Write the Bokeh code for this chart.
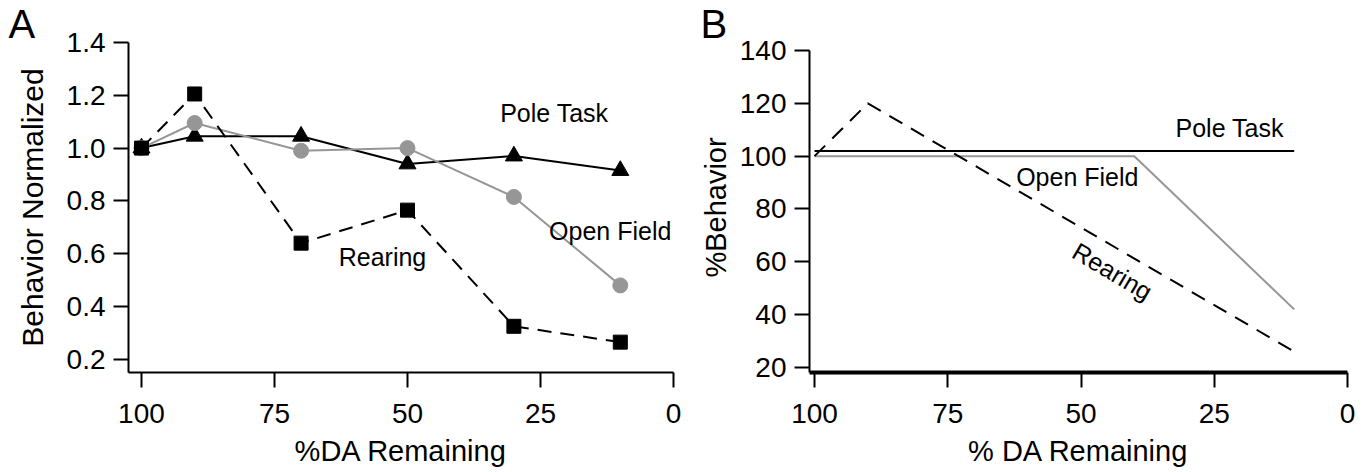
from bokeh.plotting import figure
from bokeh.layouts import row
from bokeh.models import Range1d, FixedTicker, Label
from bokeh.embed import file_html
from bokeh.resources import INLINE
import math

# ---------------- data ----------------
# Panel A (measured)
pct_da = [100, 90, 70, 50, 30, 10]
pole_task = [1.00, 1.045, 1.045, 0.94, 0.97, 0.915]
open_field = [1.00, 1.095, 0.99, 1.00, 0.815, 0.48]
rearing = [1.00, 1.205, 0.64, 0.765, 0.325, 0.265]

a_yticks = [0.2, 0.4, 0.6, 0.8, 1.0, 1.2, 1.4]
a_ytick_labels = ["0.2", "0.4", "0.6", "0.8", "1.0", "1.2", "1.4"]
x_ticks = [100, 75, 50, 25, 0]
x_tick_labels = ["100", "75", "50", "25", "0"]

# Panel B (schematic)
b_pole_x = [100, 10]
b_pole_y = [102, 102]
b_open_x = [100, 40, 10]
b_open_y = [100, 100, 42]
b_rear_x = [100, 90, 10]
b_rear_y = [100, 120, 26]

b_yticks = [20, 40, 60, 80, 100, 120, 140]
b_ytick_labels = ["20", "40", "60", "80", "100", "120", "140"]

FONT = "Liberation Sans"
GRAY = "#969696"
H = 472
TOP = 42
FRAME_H = 330


def style_axes(p, y_label, x_label, yticks, ylabels, ytitle_size, ytitle_standoff,
               xaxis_width=2):
    for ax in (p.xaxis[0], p.yaxis[0]):
        ax.axis_line_width = 2
        ax.axis_line_color = "black"
        ax.major_tick_line_width = 2
        ax.major_tick_line_color = "black"
        ax.major_tick_out = 15
        ax.major_tick_in = 0
        ax.minor_tick_line_color = None
        ax.major_label_text_font = FONT
        ax.major_label_text_font_size = "28px"
        ax.major_label_text_color = "black"
        ax.axis_label_text_font = FONT
        ax.axis_label_text_font_style = "normal"
        ax.axis_label_text_color = "black"
    p.xaxis[0].axis_line_width = xaxis_width
    p.xaxis[0].ticker = FixedTicker(ticks=x_ticks)
    p.xaxis[0].major_label_overrides = {t: l for t, l in zip(x_ticks, x_tick_labels)}
    p.xaxis[0].major_label_standoff = 16
    p.xaxis[0].axis_label = x_label
    p.xaxis[0].axis_label_text_font_size = "29px"
    p.xaxis[0].axis_label_standoff = 9
    p.yaxis[0].ticker = FixedTicker(ticks=yticks)
    p.yaxis[0].major_label_overrides = {t: l for t, l in zip(yticks, ylabels)}
    p.yaxis[0].major_label_standoff = 8
    p.yaxis[0].axis_label = y_label
    p.yaxis[0].axis_label_text_font_size = ytitle_size
    p.yaxis[0].axis_label_standoff = ytitle_standoff
    p.grid.visible = False
    p.outline_line_color = None


def panel_letter(p, letter, offset):
    p.title.text = letter
    p.title.align = "left"
    p.title.offset = offset
    p.title.standoff = -6
    p.title.text_font = FONT
    p.title.text_font_size = "40px"
    p.title.text_font_style = "normal"
    p.title.text_color = "black"


def add_text(p, x, y, txt, size="25px", angle=0.0, align="center"):
    p.add_layout(Label(x=x, y=y, text=txt, text_font=FONT, text_font_size=size,
                       text_color="black", text_align=align,
                       text_baseline="middle", angle=angle))


# ---------------- Panel A ----------------
pA = figure(width=688, height=H, output_backend="svg", toolbar_location=None,
            x_range=Range1d(102.44, 0), y_range=Range1d(0.15, 1.4),
            min_border_left=128, min_border_right=15, min_border_top=TOP,
            min_border_bottom=H - TOP - FRAME_H, background_fill_color="white",
            border_fill_color="white")
style_axes(pA, "Behavior Normalized", "%DA Remaining", a_yticks, a_ytick_labels,
           "30px", 15)
panel_letter(pA, "A", -120)

pA.line(pct_da, pole_task, line_color="black", line_width=2)
pA.scatter(pct_da, pole_task, marker="triangle", size=17, fill_color="black",
           line_color="black")
pA.line(pct_da, open_field, line_color=GRAY, line_width=2)
pA.scatter(pct_da, open_field, marker="circle", size=15, fill_color=GRAY,
           line_color=GRAY)
pA.line(pct_da, rearing, line_color="black", line_width=2, line_dash="14 9")
pA.scatter(pct_da, rearing, marker="square", size=14, fill_color="black",
           line_color="black")

add_text(pA, 22.4, 1.133, "Pole Task")
add_text(pA, 0.4, 0.686, "Open Field", align="right")
add_text(pA, 54.7, 0.587, "Rearing")

# ---------------- Panel B ----------------
# frame starts 8px above the 140 tick; axis line limited to the data bounds
pB = figure(width=683, height=H, output_backend="svg", toolbar_location=None,
            x_range=Range1d(100.94, 0), y_range=Range1d(18.1, 143.03),
            min_border_left=121, min_border_right=24, min_border_top=TOP,
            min_border_bottom=H - TOP - FRAME_H, background_fill_color="white",
            border_fill_color="white")
style_axes(pB, "%Behavior", "% DA Remaining", b_yticks, b_ytick_labels, "29px", 5,
           xaxis_width=4)
pB.yaxis[0].bounds = (18.1, 140)
panel_letter(pB, "B", -109)

pB.line(b_pole_x, b_pole_y, line_color="black", line_width=2)
pB.line(b_open_x, b_open_y, line_color=GRAY, line_width=2)
pB.line(b_rear_x, b_rear_y, line_color="black", line_width=2, line_dash="15 10")

add_text(pB, 22.1, 110.5, "Pole Task")
add_text(pB, 50.7, 92.3, "Open Field")
add_text(pB, 44.1, 56.4, "Rearing", angle=-math.radians(30.5))

layout = row(pA, pB)
open("out.html", "w").write(file_html(layout, INLINE))
